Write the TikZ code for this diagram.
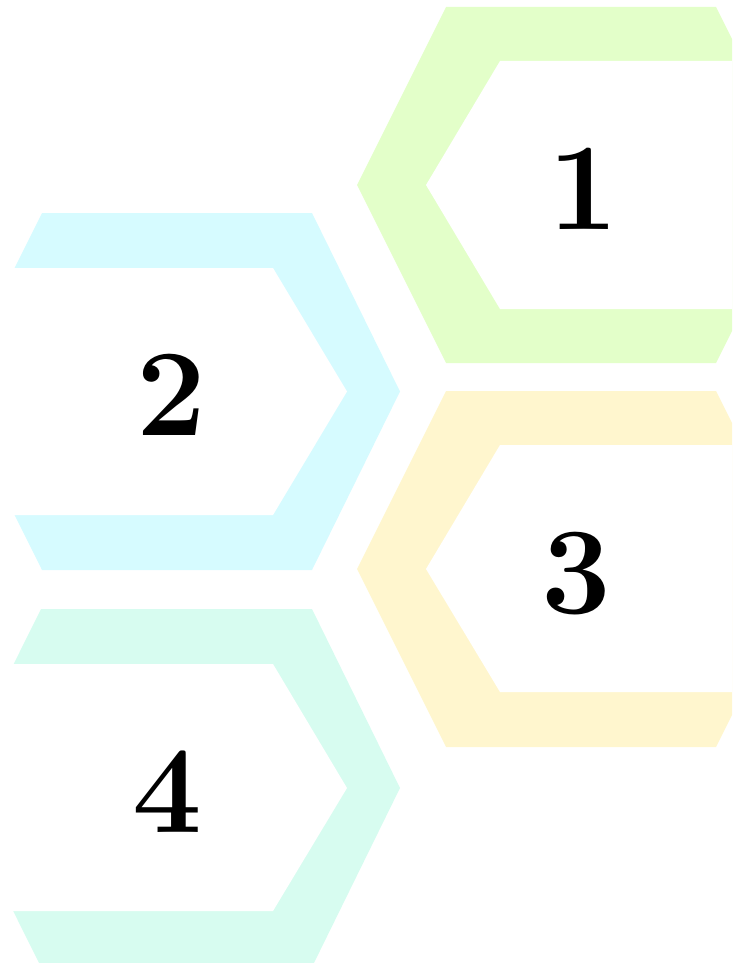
\documentclass[tikz,border=0pt]{standalone}
\usepackage{fontspec}
\usepackage{xcolor}
\usepackage{tikz}
\definecolor{hexgreen}{HTML}{E3FFC9}
\definecolor{hexcyan}{HTML}{D6FBFF}
\definecolor{hexyellow}{HTML}{FFF6CE}
\definecolor{hexmint}{HTML}{D7FCF0}

\begin{document}
\begin{tikzpicture}[
    x=1pt, y=-1pt,
    band/.style={
        draw=none
    },
    hole/.style={
        fill=white, draw=none
    },
    num/.style={
        inner sep=0pt, font=\fontsize{124}{124}\selectfont\bfseries
    },
]
\useasboundingbox (0,0) rectangle (732,963);
\clip (0,0) rectangle (732,963);

% hexagon 1 (opens to the right)
\fill[band, fill=hexgreen]
    (357,185) -- (446,7) -- (716,7) -- (805,185) -- (716,363) -- (446,363) -- cycle;
\fill[hole]
    (426,185) -- (500,61) -- (780,61) -- (854,185) -- (780,309) -- (500,309) -- cycle;
% hexagon 3
\fill[band, fill=hexyellow]
    (357,569) -- (446,391) -- (716,391) -- (805,569) -- (716,747) -- (446,747) -- cycle;
\fill[hole]
    (426,569) -- (500,445) -- (780,445) -- (854,569) -- (780,692) -- (500,692) -- cycle;
% hexagon 2 (opens to the left)
\fill[band, fill=hexcyan]
    (400,391.5) -- (312,213) -- (42,213) -- (-47,391.5) -- (42,570) -- (312,570) -- cycle;
\fill[hole]
    (347,391.5) -- (273,268) -- (-60,268) -- (-134,391.5) -- (-60,515) -- (273,515) -- cycle;
% hexagon 4
\fill[band, fill=hexmint]
    (400,788) -- (312,609) -- (41,609) -- (-48,788) -- (41,967) -- (312,967) -- cycle;
\fill[hole]
    (347,788) -- (273,664) -- (-60,664) -- (-134,788) -- (-60,911) -- (273,911) -- cycle;

\node[num] (one) at (583,189) {1};
\node[num] (two) at (171,395) {2};
\node[num] (three) at (576,574) {3};
\node[num] (four) at (167,792) {4};
\end{tikzpicture}
\end{document}
